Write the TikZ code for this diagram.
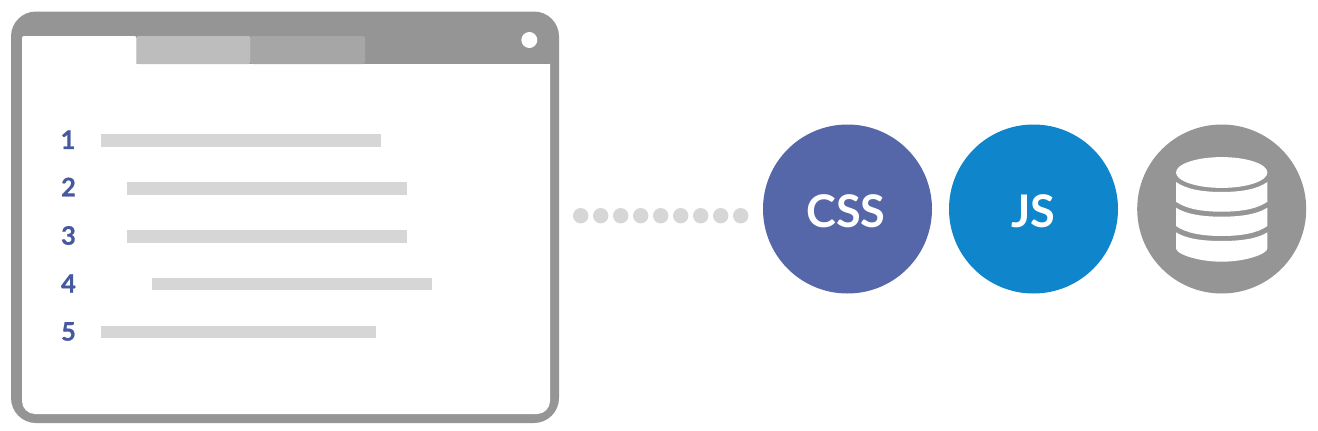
\documentclass[tikz,border=0pt]{standalone}
\usepackage{fontspec}
\setmainfont{Lato}
\newfontfamily\heavyfont[FakeBold=0.6]{Lato Bold}
\definecolor{frame}{HTML}{959595}
\definecolor{tabb}{HTML}{BDBDBD}
\definecolor{tabc}{HTML}{A6A6A6}
\definecolor{barc}{HTML}{D6D6D6}
\definecolor{numc}{HTML}{46599F}
\definecolor{cssc}{HTML}{5567A8}
\definecolor{jsc}{HTML}{0F85CB}
\tikzset{
  barbox/.style={fill=barc,draw=none,inner sep=0pt,minimum height=12.5pt,anchor=west},
  numlabel/.style={text=numc,font=\heavyfont\fontsize{25.5}{25.5}\selectfont,inner sep=0pt,anchor=center},
  bigcircle/.style={circle,draw=none,minimum size=169pt,inner sep=0pt,text=white,font=\fontsize{45}{45}\selectfont\bfseries},
  dotnode/.style={circle,fill=barc,draw=none,minimum size=15.4pt,inner sep=0pt},
}
\begin{document}
\begin{tikzpicture}[x=1pt,y=-1pt]
\useasboundingbox (0,0) rectangle (1318,431);
\fill[white] (0,0) rectangle (1318,431);
% window
\fill[frame,rounded corners=25pt] (11,11.5) rectangle (559,423);
\fill[white,rounded corners=13pt] (22,50) rectangle (550,414);
\fill[frame] (22,31.5) rectangle (550,64);
\fill[white] (22,64) rectangle (550,80);
\fill[white,rounded corners=2pt] (22,36) -- (136.5,36) -- (136.5,70) -- (22,70) -- cycle;
\fill[tabb,rounded corners=2pt] (136.5,64) -- (136.5,36) -- (250.5,36) -- (250.5,64) -- cycle;
\fill[tabc,rounded corners=2pt] (250.5,64) -- (250.5,36) -- (365,36) -- (365,64) -- cycle;
\node[circle,fill=white,minimum size=16pt,inner sep=0pt] (winbtn) at (529.3,40) {};
% rows
\node[numlabel] (n1) at (68,139.7) {1};
\node[numlabel] (n2) at (68.5,187) {2};
\node[numlabel] (n3) at (68.5,235.5) {3};
\node[numlabel] (n4) at (68.5,283.5) {4};
\node[numlabel] (n5) at (68.5,331.5) {5};
\node[barbox,minimum width=280pt] (b1) at (101,140.7) {};
\node[barbox,minimum width=280pt] (b2) at (126.7,188.5) {};
\node[barbox,minimum width=280pt] (b3) at (126.7,236.3) {};
\node[barbox,minimum width=280pt] (b4) at (152,284.2) {};
\node[barbox,minimum width=275pt] (b5) at (101,331.9) {};
% dots
\foreach \i in {0,...,8} \node[dotnode] (d\i) at (580.7+20*\i,215.7) {};
% circles
\node[bigcircle,fill=cssc,text depth=0pt] (cssbg) at (847.5,209) {};
\node[text=white,font=\fontsize{45}{45}\selectfont\bfseries,inner sep=0pt] (css) at (846,211.5) {CSS};
\node[bigcircle,fill=jsc] (jsbg) at (1033.5,209) {};
\node[text=white,font=\fontsize{45}{45}\selectfont\bfseries,inner sep=0pt] (js) at (1033,211.5) {JS};
\node[bigcircle,fill=frame] (db) at (1221.7,209) {};
% database
\begin{scope}[shift={(1221.7,0)}]
\fill[white] (0,172.5) ellipse [x radius=45.7pt,y radius=15.4pt];
\fill[white] (-45.7,182) .. controls (-36,189) and (-20,192) .. (0,192) .. controls (20,192) and (36,189) .. (45.7,182) -- (45.7,201.7) .. controls (36,208.7) and (20,211.7) .. (0,211.7) .. controls (-20,211.7) and (-36,208.7) .. (-45.7,201.7) -- cycle;
\fill[white] (-45.7,207.7) .. controls (-36,214) and (-20,216.7) .. (0,216.7) .. controls (20,216.7) and (36,214) .. (45.7,207.7) -- (45.7,226) .. controls (36,233) and (20,236) .. (0,236) .. controls (-20,236) and (-36,233) .. (-45.7,226) -- cycle;
\fill[white] (-45.7,232.3) .. controls (-36,238.5) and (-20,241) .. (0,241) .. controls (20,241) and (36,238.5) .. (45.7,232.3) -- (45.7,248.3) .. controls (45.7,254) and (24,261.7) .. (0,261.7) .. controls (-24,261.7) and (-45.7,254) .. (-45.7,248.3) -- cycle;
\end{scope}
\end{tikzpicture}
\end{document}
